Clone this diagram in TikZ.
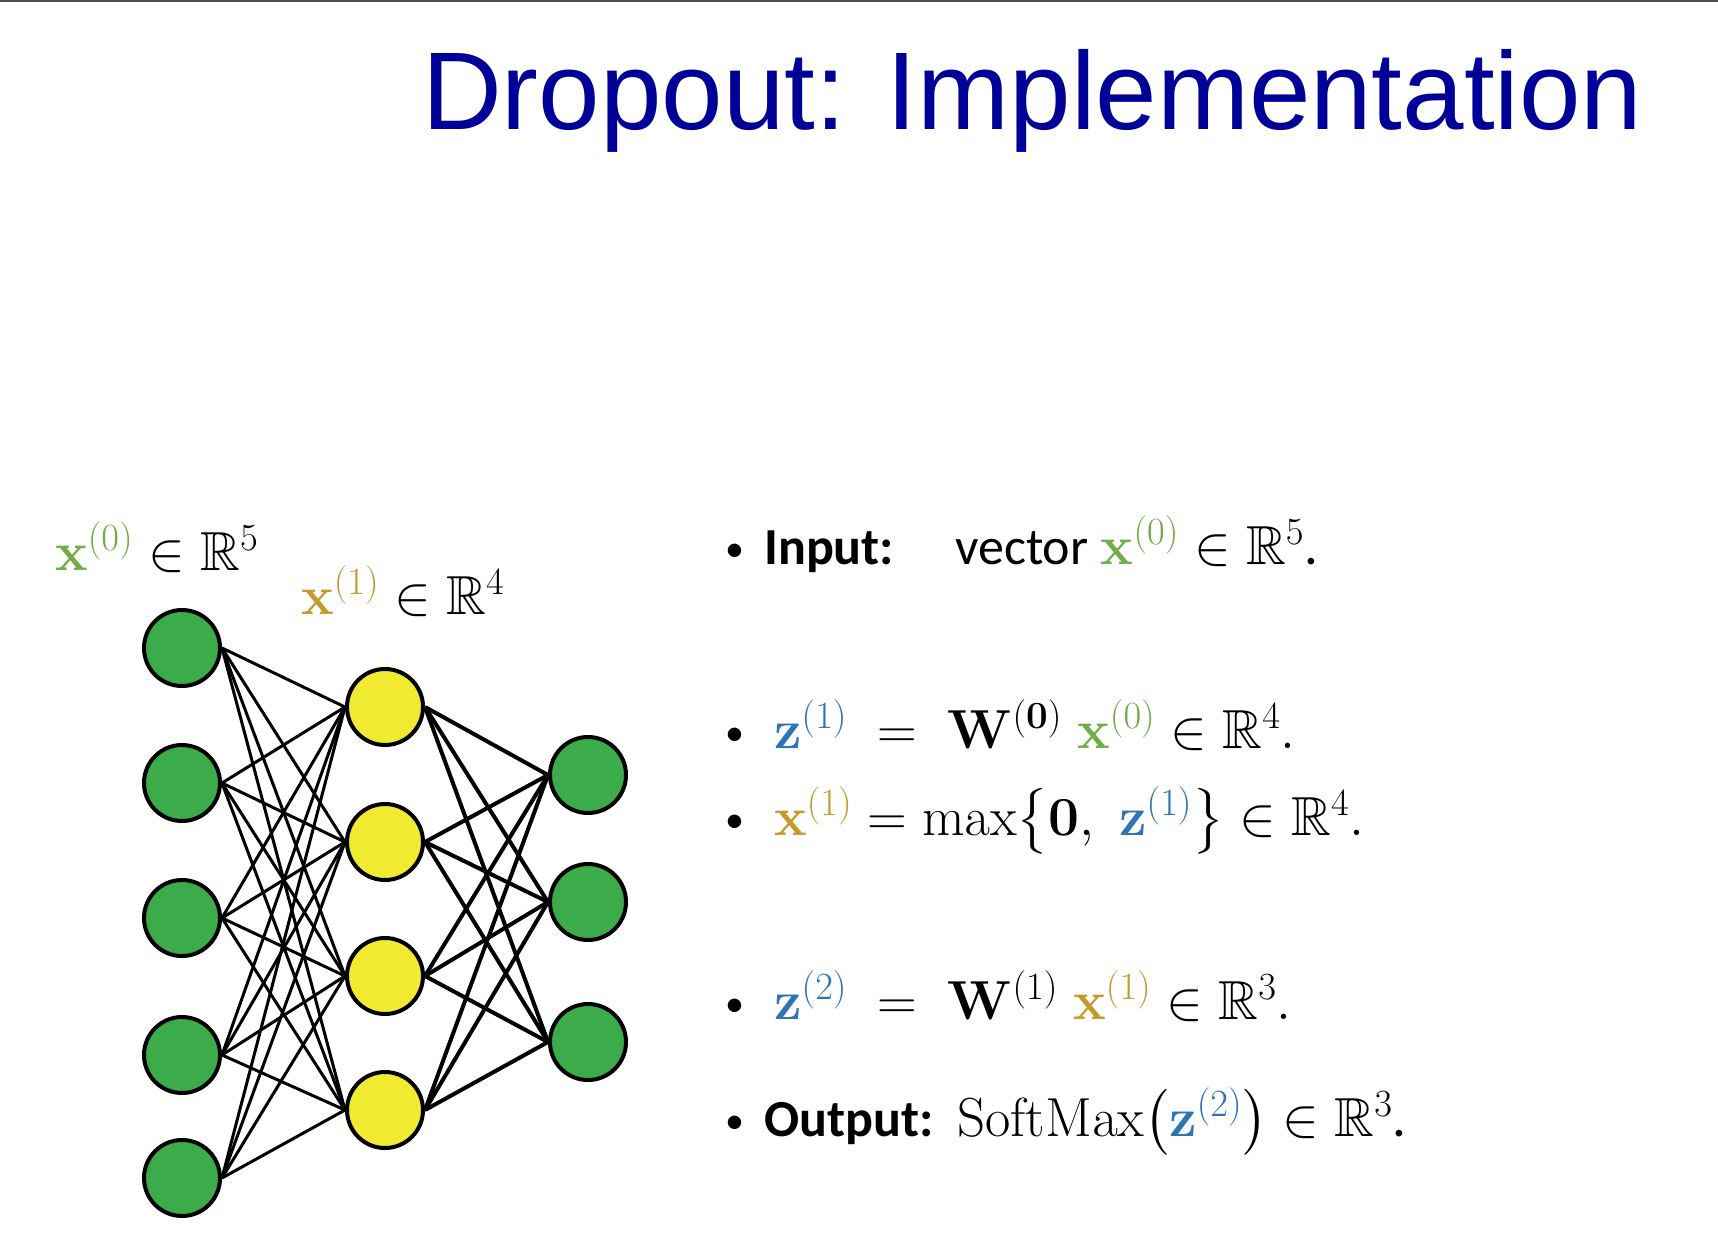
\RequirePackage{fix-cm}
\documentclass[tikz,border=0pt]{standalone}
\usepackage{amsmath,amssymb}
\usepackage[no-math]{fontspec}
\setmainfont{Carlito}
\newfontfamily\titlefont{Liberation Sans}
\definecolor{titleblue}{RGB}{0,0,153}
\definecolor{nodegreen}{RGB}{60,172,75}
\definecolor{nodeyellow}{RGB}{240,234,48}
\definecolor{cgreen}{RGB}{112,173,71}
\definecolor{cgold}{RGB}{196,154,42}
\definecolor{cblue}{RGB}{46,117,182}
\newcommand\Tx[1]{{\fontsize{52}{62}\selectfont #1}}
\begin{document}
\begin{tikzpicture}[x=1pt,y=-1pt,
  neuron/.style={circle, draw=black, line width=4pt, minimum size=76pt, inner sep=0pt},
  greenneuron/.style={neuron, fill=nodegreen},
  yellowneuron/.style={neuron, fill=nodeyellow},
  edgeA/.style={line width=3pt, black},
  edgeB/.style={line width=4pt, black},
  txt/.style={anchor=base west, inner sep=0pt, font=\fontsize{55}{66}\selectfont},
  bullet/.style={anchor=base west, inner sep=0pt, font=\fontsize{38}{44}\selectfont}]
\useasboundingbox (0,0) rectangle (1718,1260);
\fill[white] (0,0) rectangle (1718,1260);
\draw[line width=2pt, black!70] (0,1) -- (1718,1);

\node[anchor=base west, inner sep=0pt, text=titleblue, font=\titlefont\fontsize{110.5}{130}\selectfont] (title) at (422,130) {Dropout: Implementation};

% network
\node[greenneuron] (i1) at (182,648) {};
\node[greenneuron] (i2) at (182,783) {};
\node[greenneuron] (i3) at (182,918) {};
\node[greenneuron] (i4) at (182,1055) {};
\node[greenneuron] (i5) at (182,1178) {};
\node[yellowneuron] (h1) at (385,707) {};
\node[yellowneuron] (h2) at (385,842) {};
\node[yellowneuron] (h3) at (385,976) {};
\node[yellowneuron] (h4) at (385,1110) {};
\node[greenneuron] (o1) at (588,775) {};
\node[greenneuron] (o2) at (588,902) {};
\node[greenneuron] (o3) at (588,1042) {};

\foreach \a in {1,...,5}{\foreach \b in {1,...,4}{\draw[edgeA] (i\a.east) -- (h\b.west);}}
\foreach \a in {1,...,4}{\foreach \b in {1,...,3}{\draw[edgeB] (h\a.east) -- (o\b.west);}}

% labels
\node[txt] (l0) at (55,570) {${\color{cgreen}\mathbf{x}^{(0)}}\in\mathbb{R}^5$};
\node[txt] (l1) at (301,614) {${\color{cgold}\mathbf{x}^{(1)}}\in\mathbb{R}^4$};

% bullets
\node[bullet] (b1) at (725,561) {•};
\node[txt] (t1) at (764,564) {\Tx{\textbf{Input:}\hspace{61pt}vector} ${\color{cgreen}\mathbf{x}^{(0)}}\in\mathbb{R}^5$.};
\node[bullet] (b2) at (725,745) {•};
\node[txt] (t2) at (774,748) {${\color{cblue}\mathbf{z}^{(1)}}\;=\;\mathbf{W}^{(\mathbf{0})}\;{\color{cgreen}\mathbf{x}^{(0)}}\in\mathbb{R}^4.$};
\node[bullet] (b3) at (725,832) {•};
\node[txt] (t3) at (774,835) {${\color{cgold}\mathbf{x}^{(1)}}=\max\bigl\{\mathbf{0},\;{\color{cblue}\mathbf{z}^{(1)}}\bigr\}\in\mathbb{R}^4.$};
\node[bullet] (b4) at (725,1016) {•};
\node[txt] (t4) at (774,1019) {${\color{cblue}\mathbf{z}^{(2)}}\;=\;\mathbf{W}^{(1)}\;{\color{cgold}\mathbf{x}^{(1)}}\in\mathbb{R}^3.$};
\node[bullet] (b5) at (725,1133) {•};
\node[txt] (t5) at (764,1136) {\Tx{\textbf{Output:}}\hspace{24pt}$\mathrm{SoftMax}\bigl({\color{cblue}\mathbf{z}^{(2)}}\bigr)\in\mathbb{R}^3$.};
\end{tikzpicture}
\end{document}
